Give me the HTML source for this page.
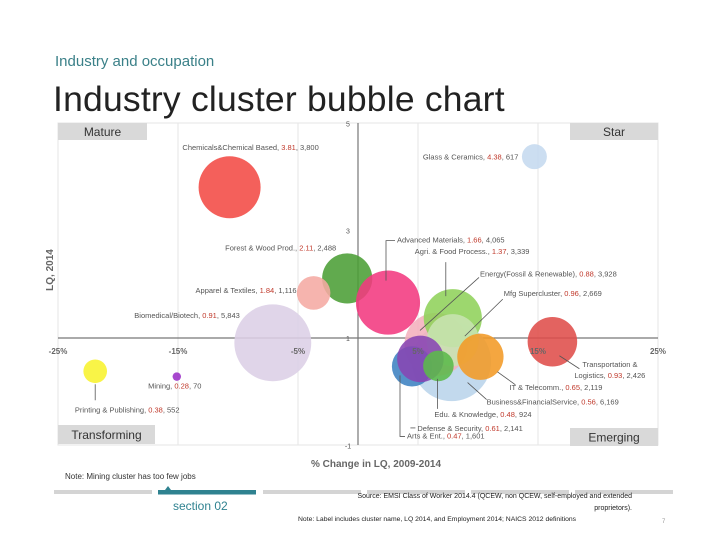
<!DOCTYPE html>
<html><head><meta charset="utf-8"><style>
html,body{margin:0;padding:0;background:#fff;}
body{width:720px;height:540px;position:relative;overflow:hidden;font-family:"Liberation Sans",sans-serif;}
.abs{position:absolute;}
</style></head><body>
<div class="abs" style="left:55px;top:53px;font-size:15px;color:#3a8088;">Industry and occupation</div>
<div class="abs" style="left:53px;top:79px;font-size:35.5px;color:#222;letter-spacing:0.2px;">Industry cluster bubble chart</div>
<svg id="chart" class="abs" style="left:0;top:0" width="720" height="540" xmlns="http://www.w3.org/2000/svg"></svg>
<script>
const names=["Biomedical/Biotech","Chemicals&Chemical Based","Forest & Wood Prod.","Advanced Materials","Apparel & Textiles","Business&FinancialService","Energy(Fossil & Renewable)","Agri. & Food Process.","Mfg Supercluster","IT & Telecomm.","Transportation & Logistics","Arts & Ent.","Defense & Security","Edu. & Knowledge","Glass & Ceramics","Mining","Printing & Publishing"];
const pctChange=[-7.1,-10.7,-0.9,2.5,-3.7,7.8,6.5,7.9,7.9,10.2,16.2,4.5,5.2,6.7,14.7,-15.1,-21.9];
const lq=[0.91,3.81,2.11,1.66,1.84,0.56,0.88,1.37,0.96,0.65,0.93,0.47,0.61,0.48,4.38,0.28,0.38];
const employment=[5843,3800,2488,4065,1116,6169,3928,3339,2669,2119,2426,1601,2141,924,617,70,552];
const xTicks=[-25,-15,-5,5,15,25];
const yTicks=[5,3,1,-1];
</script>
<script>
const colors=["#dccfe6","#f24a44","#4b9e36","#f2397f","#f5aaa3","#b9d4ea","#f4b0bd","#8fd15a","#c8e4b2","#f39a26","#df4d4a","#3d82c2","#8845b3","#5bb94a","#c5d9ef","#9b2fc7","#f8f22e"];
const lab=[
 {dx:-33,dy:-25,a:"end",ld:null},
 {dx:21,dy:-37,a:"middle",ld:null},
 {dx:-11,dy:-28,a:"end",ld:null},
 {dx:9,dy:-60,a:"start",ld:[[-2,-22],[-2,-62],[7,-62]]},
 {dx:-17,dy:0,a:"end",ld:null},
 {dx:35,dy:43,a:"start",ld:[[16,21],[35,38]]},
 {dx:44,dy:-68,a:"start",ld:[[-16,-14],[43,-67]]},
 {dx:-38,dy:-64,a:"start",ld:[[-7,-22],[-7,-56]]},
 {dx:51,dy:-44,a:"start",ld:[[12,-4],[50,-41]]},
 {dx:29,dy:33,a:"start",ld:[[17,15],[35,28]]},
 {dx:30,dy:25,a:"start",ld:[[7,14],[27,27]],two:true},
 {dx:-5,dy:72,a:"start",ld:[[-12,9],[-12,70],[-7,70]]},
 {dx:-3,dy:72,a:"start",ld:[[-10,69],[-5,69]]},
 {dx:-4,dy:51,a:"start",ld:[[-1,13],[-1,43]]},
 {dx:-16,dy:3,a:"end",ld:null},
 {dx:-2,dy:12,a:"middle",ld:null},
 {dx:32,dy:41,a:"middle",ld:[[0,13],[0,29]]}
];
const NS="http://www.w3.org/2000/svg";
const svg=document.getElementById('chart');
const X=v=>358+v*12;
const Y=v=>338-(v-1)*53.65;
const R=e=>0.503*Math.sqrt(e);
function mk(t,at,parent){const e=document.createElementNS(NS,t);for(const k in at)e.setAttribute(k,at[k]);(parent||svg).appendChild(e);return e;}
let fr=mk('rect',{x:58,y:123,width:600,height:322,fill:'none',stroke:'#e4e4e4','stroke-width':1});


xTicks.forEach(t=>{
 if(t!==-25&&t!==25){const g=mk('line',{x1:X(t),x2:X(t),y1:123,y2:445,stroke:'#e6e6e6','stroke-width':1});
 
 }
});
let ax=mk('line',{x1:58,x2:658,y1:Y(1),y2:Y(1),stroke:'#777','stroke-width':1.2});


let ay=mk('line',{x1:X(0),x2:X(0),y1:123,y2:445,stroke:'#777','stroke-width':1.2});


yTicks.forEach(t=>{
 const tl=mk('text',{x:X(0)-10,y:Y(t)+3,'text-anchor':'middle','font-size':7,fill:'#555'});
 tl.textContent=t;
 
 
});
[["Mature",58,123,89,17,"quadrant-mature"],["Star",570,123,88,17,"quadrant-star"],["Transforming",58,425,97,19,"quadrant-transforming"],["Emerging",570,428,88,18,"quadrant-emerging"]].forEach(q=>{
 const g=mk('g',{});
 
 
 mk('rect',{x:q[1],y:q[2],width:q[3],height:q[4],fill:'#d9d9d9'},g);
 const t=mk('text',{x:q[1]+q[3]/2,y:q[2]+q[4]/2+4.5,'text-anchor':'middle','font-size':12,fill:'#333'},g);t.textContent=q[0];
});
names.forEach((n,i)=>{
 const c=mk('circle',{cx:X(pctChange[i]),cy:Y(lq[i]),r:R(employment[i]),fill:colors[i],'fill-opacity':0.88});
 
 
});
xTicks.forEach(t=>{
 const tl=mk('text',{x:X(t),y:354,'text-anchor':'middle','font-size':8,'font-weight':'bold',fill:'#666'});
 tl.textContent=t+'%';
 
 
});
names.forEach((n,i)=>{
 const cx=X(pctChange[i]),cy=Y(lq[i]),L=lab[i];
 if(L.ld){const p=mk('polyline',{points:L.ld.map(q=>(cx+q[0])+','+(cy+q[1])).join(' '),fill:'none',stroke:'#555','stroke-width':0.8});
  
  }
 const emp=employment[i].toLocaleString('en-US');
 const t=mk('text',{x:cx+L.dx,y:cy+L.dy,'text-anchor':L.a,'font-size':7.5,fill:'#555'});
 
 
 if(L.two){
  const parts=n.split(' & ');
  t.textContent=parts[0]+' &';
  const t2=mk('text',{x:cx+L.dx-8,y:cy+L.dy+11,'text-anchor':L.a,'font-size':7.5,fill:'#555'});
  
  
  t2.innerHTML=parts[1]+', <tspan fill="#c0392b">'+lq[i].toFixed(2)+'</tspan>, '+emp;
 } else {
  t.innerHTML=n+', <tspan fill="#c0392b">'+lq[i].toFixed(2)+'</tspan>, '+emp;
 }
});
let xt=mk('text',{x:376,y:467,'text-anchor':'middle','font-size':10,'font-weight':'bold',fill:'#666'});
xt.textContent='% Change in LQ, 2009-2014';


let yt=mk('text',{x:0,y:0,'text-anchor':'middle','font-size':10,'font-weight':'bold',fill:'#666',transform:'translate(53,270) rotate(-90)'});
yt.textContent='LQ, 2014';


[[54,false],[158,true],[263,false],[367,false],[471,false],[575,false]].forEach(b=>{
 const r=mk('rect',{x:b[0],y:490,width:98,height:b[1]?4.5:4,fill:b[1]?'#2f8290':'#d4d4d4'});
 
 
});
let tri=mk('polygon',{points:'165,490 168,486 171,490',fill:'#2f8290'});


</script>
<div class="abs" style="left:65px;top:472px;font-size:8px;color:#333;">Note: Mining cluster has too few jobs</div>
<div class="abs" style="left:173px;top:499px;font-size:12px;color:#2f8290;">section 02</div>
<div class="abs" style="left:332px;top:491px;width:300px;text-align:right;font-size:7px;line-height:12px;color:#222;">Source: EMSI Class of Worker 2014.4 (QCEW, non QCEW, self-employed and extended proprietors).</div>
<div class="abs" style="left:298px;top:516px;font-size:6.8px;color:#222;">Note: Label includes cluster name, LQ 2014, and Employment 2014; NAICS 2012 definitions</div>
<div class="abs" style="left:662px;top:519px;font-size:6px;color:#999;">7</div>
</body></html>
